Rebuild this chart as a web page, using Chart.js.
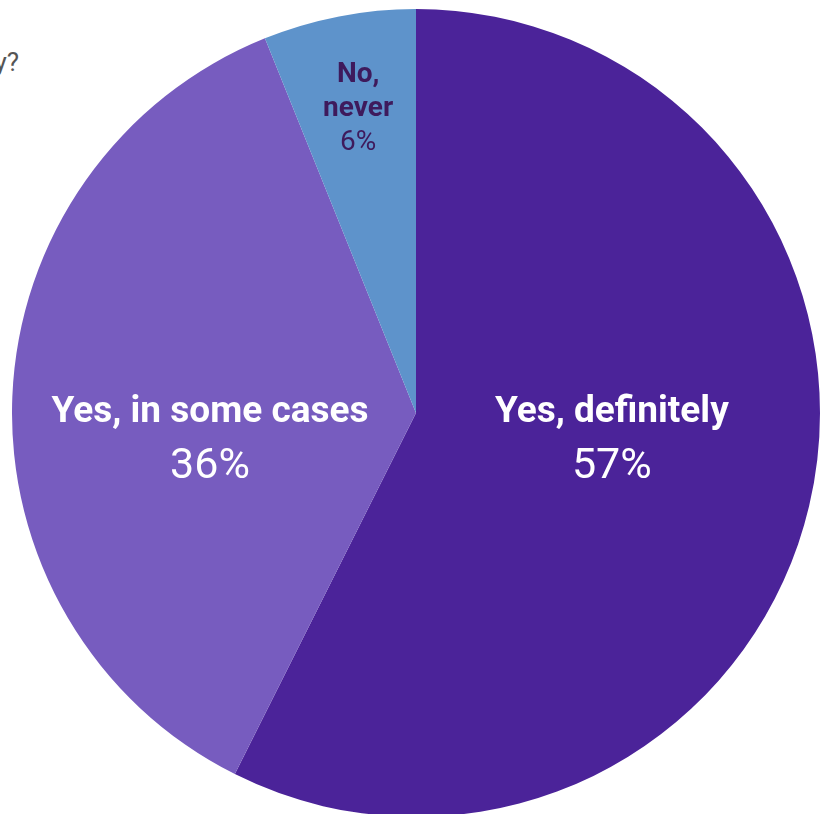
<!DOCTYPE html>
<html><head><meta charset="utf-8">
<script src="https://cdn.jsdelivr.net/npm/chart.js@4"></script>
<style>
html,body{margin:0;padding:0;background:#fff;overflow:hidden;width:822px;height:814px;position:relative;font-family:Roboto,"Noto Sans",sans-serif}
#wrap{position:absolute;left:12px;top:9px;width:808px;height:808px}
#title{position:absolute;right:803px;top:47px;font-size:26px;line-height:30px;color:#555;white-space:nowrap}
</style></head><body>
<div id="title">y?</div>
<div id="wrap"><canvas id="c" width="808" height="808"></canvas></div>
<script>
const categories = ["Yes, definitely", "Yes, in some cases", "No, never"];
const values = [57.4, 36.5, 6.1];
const percentLabels = ["57%", "36%", "6%"];

const colors = ["#4B2399", "#775CBF", "#5E93CB"];
const labelStyle = [
  {f:0.488, da:-6.7, title:37, pct:43, gap:56, color:"#ffffff", wrap:false},
  {f:0.513, da:-8.6, title:37, pct:43, gap:56, color:"#ffffff", wrap:false},
  {f:0.773, da:0.3, title:28, pct:28, gap:34, color:"#3E1A5C", wrap:true}
];

const labelPlugin = {
  id:'sliceLabels',
  afterDatasetsDraw(chart){
    const ctx = chart.ctx;
    const meta = chart.getDatasetMeta(0);
    meta.data.forEach((arc, i) => {
      const s = labelStyle[i];
      const p = arc.getProps(['x','y','startAngle','endAngle','outerRadius'], true);
      const mid = (p.startAngle + p.endAngle)/2 + s.da*Math.PI/180;
      const cx = p.x + Math.cos(mid)*s.f*p.outerRadius;
      const cy = p.y + Math.sin(mid)*s.f*p.outerRadius;
      const titleLines = s.wrap ? categories[i].split(' ') : [categories[i]];
      const lines = titleLines.map(t => ({t, bold:true, size:s.title}));
      lines.push({t:percentLabels[i], bold:false, size:s.pct});
      const n = lines.length;
      const avg = lines.reduce((a,l)=>a+l.size,0)/n;
      const capH = 0.711*avg;
      ctx.save();
      ctx.fillStyle = s.color;
      ctx.textAlign = 'center';
      ctx.textBaseline = 'alphabetic';
      lines.forEach((l, k) => {
        ctx.font = (l.bold ? '700 ' : '400 ') + l.size + 'px Roboto';
        ctx.fillText(l.t, cx, cy + capH/2 + (k - (n-1)/2)*s.gap);
      });
      ctx.restore();
    });
  }
};

new Chart(document.getElementById('c'), {
  type:'pie',
  data:{labels:categories, datasets:[{data:values, backgroundColor:colors, borderWidth:0, hoverOffset:0}]},
  options:{
    responsive:false, animation:false,
    layout:{padding:0},
    plugins:{legend:{display:false}, tooltip:{enabled:false}}
  },
  plugins:[labelPlugin]
});
</script>
</body></html>
